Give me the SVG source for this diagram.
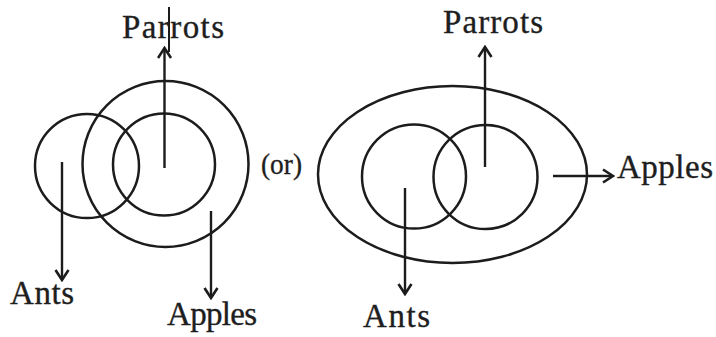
<svg xmlns="http://www.w3.org/2000/svg" width="716" height="337" viewBox="0 0 716 337">
<style>
  .set { fill: none; stroke: #1c1c1c; stroke-width: 2.5; }
  .lbl { font-family: "Liberation Serif", "Times New Roman", serif; font-size: 33px; fill: #1e1e1e; stroke: #1e1e1e; stroke-width: 0.35; }
  .conn { fill: none; stroke: #1c1c1c; stroke-width: 2.4; marker-end: url(#ah); }
</style>
<defs>
  <marker id="ah" viewBox="-12 -8 14 16" markerWidth="14" markerHeight="16" refX="0" refY="0" orient="auto" markerUnits="userSpaceOnUse">
    <path d="M -10 -6.5 L 0 0 L -10 6.5" fill="none" stroke="#1c1c1c" stroke-width="2.6"/>
  </marker>
</defs>
<rect width="716" height="337" fill="#ffffff"/>

<!-- Left diagram -->
<g id="left-ants-set"><circle class="set" cx="87" cy="166" r="52"/></g>
<g id="left-apples-set"><circle class="set" cx="165.5" cy="164" r="83"/></g>
<g id="left-parrots-set"><circle class="set" cx="164" cy="164.5" r="51"/></g>
<g id="left-parrots-label"><text class="lbl" x="122" y="38" textLength="102" lengthAdjust="spacing">Parrots</text></g>
<g id="left-ants-label"><text class="lbl" x="10" y="304" textLength="64" lengthAdjust="spacing">Ants</text></g>
<g id="left-apples-label"><text class="lbl" x="167" y="325" textLength="90" lengthAdjust="spacing">Apples</text></g>

<g id="or-label"><text class="lbl" x="261" y="174" style="font-size:29px" textLength="41" lengthAdjust="spacingAndGlyphs">(or)</text></g>

<!-- Right diagram -->
<g id="right-apples-set"><ellipse class="set" cx="452.5" cy="174.5" rx="134.5" ry="88.5"/></g>
<g id="right-ants-set"><circle class="set" cx="414" cy="176.5" r="52"/></g>
<g id="right-parrots-set"><circle class="set" cx="485.5" cy="177" r="52"/></g>
<g id="right-parrots-label"><text class="lbl" x="443" y="33" textLength="100" lengthAdjust="spacing">Parrots</text></g>
<g id="right-apples-label"><text class="lbl" x="617" y="178" textLength="96" lengthAdjust="spacing">Apples</text></g>
<g id="right-ants-label"><text class="lbl" x="363" y="327" textLength="67" lengthAdjust="spacing">Ants</text></g>

<g id="connectors">
  <line class="conn" x1="164.5" y1="168" x2="164.5" y2="48"/>
  <line class="conn" x1="62" y1="162" x2="62" y2="280"/>
  <line class="conn" x1="211" y1="211" x2="211" y2="298"/>
  <line x1="169" y1="7" x2="169" y2="52" stroke="#1c1c1c" stroke-width="2"/>
  <line class="conn" x1="485" y1="167" x2="485" y2="47"/>
  <line class="conn" x1="553" y1="176" x2="613" y2="176"/>
  <line class="conn" x1="405" y1="188" x2="405" y2="294"/>
</g>
</svg>
